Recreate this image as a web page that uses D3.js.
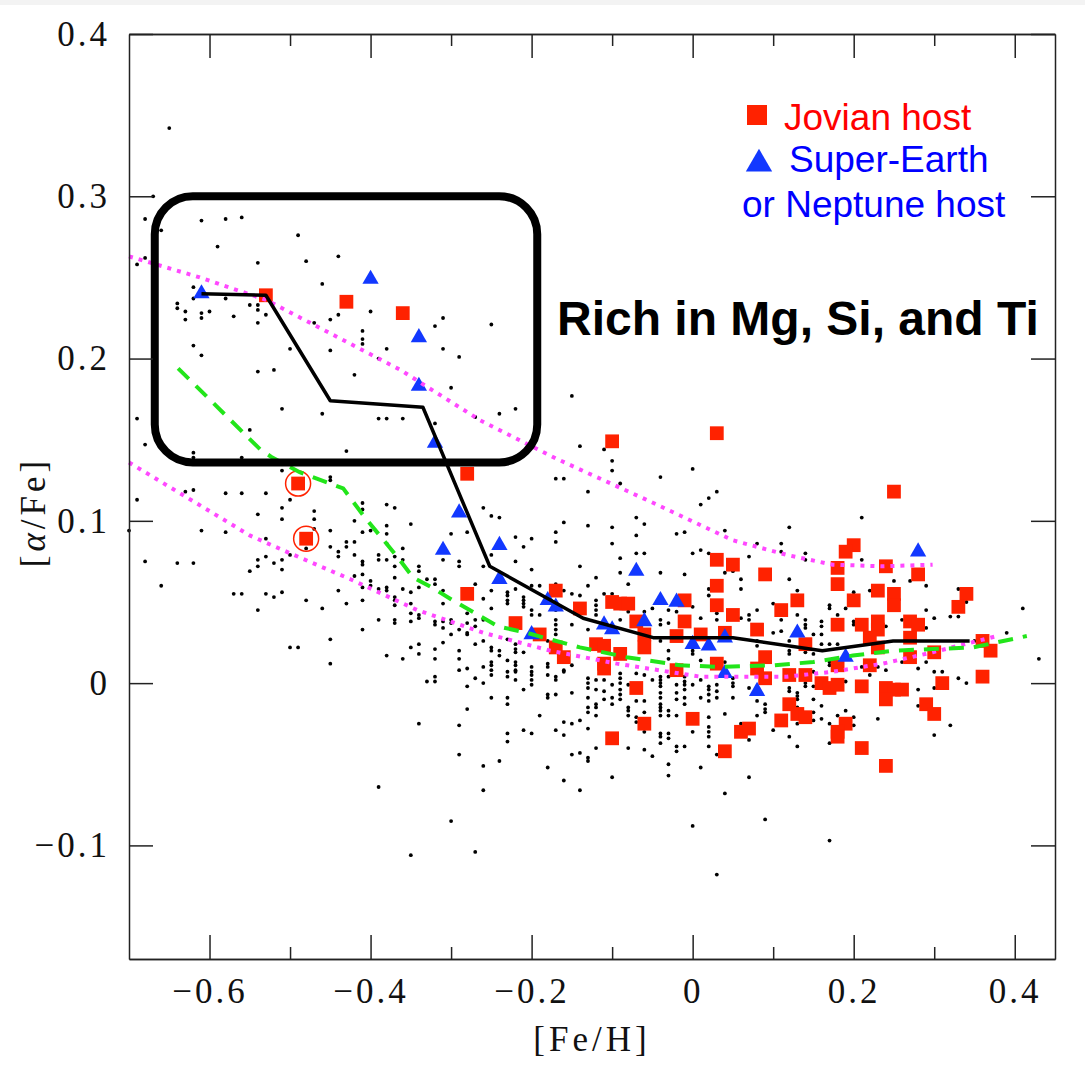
<!DOCTYPE html>
<html><head><meta charset="utf-8">
<script src="https://cdn.jsdelivr.net/npm/d3@7"></script>
<style>
html,body{margin:0;padding:0;background:#fff;}
svg{display:block;}
</style></head>
<body>
<svg id="chart" width="1085" height="1067"></svg>
<script>
// ---------- tick definitions ----------
const xTicksMajor = [-0.6, -0.4, -0.2, 0, 0.2, 0.4];
const xTickLabels = ["\u22120.6", "\u22120.4", "\u22120.2", "0", "0.2", "0.4"];
const xTicksMinor = [-0.5, -0.3, -0.1, 0.1, 0.3];
const yTicks = [-0.1, 0, 0.1, 0.2, 0.3, 0.4];
const yTickLabels = ["\u22120.1", "0", "0.1", "0.2", "0.3", "0.4"];

// ---------- Jovian hosts [Fe/H, alpha/Fe] ----------
const jovianHosts = [
[-0.53,0.239],[-0.43,0.235],[-0.36,0.228],[-0.28,0.129],[-0.28,0.055],[-0.10,0.149],[0.03,0.154],[0.25,0.118],
[0.20,0.085],[0.19,0.081],[0.18,0.071],[0.24,0.072],[0.28,0.067],[0.03,0.076],[0.05,0.073],[0.09,0.067],
[0.18,0.061],[0.03,0.060],[0.23,0.057],[0.25,0.055],[0.34,0.055],[-0.10,0.050],[-0.09,0.049],[-0.08,0.049],
[-0.01,0.051],[0.13,0.051],[0.20,0.051],[0.25,0.048],[0.03,0.048],[0.11,0.045],[0.33,0.047],[0.05,0.042],
[-0.01,0.038],[-0.07,0.038],[0.18,0.036],[0.21,0.036],[0.23,0.038],[0.23,0.033],[0.27,0.038],[0.28,0.036],
[0.08,0.033],[0.01,0.030],[-0.02,0.029],[0.04,0.031],[-0.06,0.030],[-0.06,0.022],[-0.12,0.024],[-0.11,0.023],
[0.22,0.028],[0.27,0.028],[0.36,0.026],[0.37,0.020],[0.23,0.022],[0.30,0.019],[0.14,0.024],[-0.09,0.018],
[0.09,0.016],[0.27,0.016],[0.18,0.011],[0.22,0.011],[0.03,0.012],[-0.02,0.008],[0.08,0.009],[0.09,0.003],
[0.12,0.005],[0.14,0.005],[0.36,0.004],[0.31,0.000],[0.16,0.000],[0.17,-0.003],[0.18,-0.001],[0.21,-0.002],
[0.24,-0.003],[0.25,-0.004],[0.26,-0.004],[0.24,-0.010],[-0.07,-0.003],[0.12,-0.013],[0.29,-0.013],[0.30,-0.019],
[0.13,-0.019],[0.14,-0.021],[0.00,-0.022],[0.11,-0.023],[0.19,-0.025],[-0.06,-0.025],[0.06,-0.030],[0.07,-0.028],
[0.18,-0.030],[0.18,-0.033],[-0.10,-0.034],[0.21,-0.040],[0.04,-0.042],[0.24,-0.051],[-0.14,0.046],[-0.22,0.037],
[-0.19,0.030],[-0.17,0.022],[-0.16,0.016],[-0.11,0.012],[-0.11,0.009],[-0.17,0.057],
[-0.49,0.123],[-0.48,0.089]
];
// Jovian hosts that are circled
const circledHosts = [[-0.49,0.123],[-0.48,0.089]];

// ---------- Super-Earth / Neptune hosts ----------
const neptuneHosts = [
[-0.61,0.240],[-0.40,0.249],[-0.34,0.213],[-0.34,0.183],[-0.32,0.148],[-0.29,0.105],[-0.31,0.082],[-0.24,0.085],
[-0.24,0.064],[-0.20,0.030],[-0.18,0.051],[-0.17,0.047],[-0.11,0.036],[-0.10,0.033],[-0.07,0.069],[-0.04,0.051],
[-0.02,0.050],[-0.06,0.038],[0.00,0.024],[0.02,0.023],[0.04,0.028],[0.13,0.031],[0.04,0.006],[0.08,-0.005],
[0.19,0.016],[0.28,0.081]
];

// ---------- field stars ----------
const fieldStars = [
[-0.65,0.342],[-0.67,0.300],[-0.68,0.286],[-0.66,0.279],[-0.61,0.285],[-0.58,0.286],[-0.56,0.287],[-0.59,0.269],
[-0.49,0.276],[-0.69,0.258],[-0.68,0.262],[-0.54,0.259],[-0.48,0.260],[-0.44,0.263],[-0.46,0.246],[-0.62,0.244],
[-0.62,0.237],[-0.64,0.234],[-0.64,0.231],[-0.63,0.229],[-0.63,0.224],[-0.61,0.228],[-0.61,0.225],[-0.60,0.229],
[-0.58,0.237],[-0.57,0.226],[-0.55,0.233],[-0.54,0.233],[-0.54,0.230],[-0.53,0.227],[-0.54,0.222],[-0.47,0.222],
[-0.45,0.224],[-0.44,0.227],[-0.40,0.229],[-0.41,0.217],[-0.41,0.212],[-0.41,0.209],[-0.38,0.206],[-0.39,0.200],
[-0.45,0.205],[-0.50,0.206],[-0.62,0.208],[-0.61,0.202],[-0.54,0.192],[-0.52,0.193],[-0.42,0.190],
[-0.31,0.225],[-0.32,0.220],[-0.25,0.221],[-0.31,0.206],[-0.29,0.201],[-0.30,0.182],[-0.24,0.166],[-0.22,0.169],
[-0.27,0.164],[-0.36,0.163],[-0.39,0.163],[-0.38,0.163],[-0.46,0.166],[-0.51,0.169],[-0.32,0.160],[-0.43,0.143],
[-0.55,0.156],[-0.69,0.163],[-0.68,0.147],[-0.62,0.142],[-0.62,0.139],[-0.56,0.139],[-0.17,0.126],[-0.16,0.126],
[-0.15,0.177],[-0.14,0.146],[-0.11,0.144],[-0.10,0.137],[-0.10,0.131],[-0.04,0.127],[0.00,0.132],
[-0.09,0.123],[0.03,0.118],[0.02,0.114],[0.01,0.110],[-0.10,0.096],[-0.07,0.102],[-0.06,0.098],[-0.10,0.086],
[-0.02,0.092],[-0.01,0.093],[0.04,0.094],[0.12,0.096],[-0.07,0.091],[-0.07,0.080],[-0.06,0.080],[-0.09,0.077],
[0.00,0.080],[0.01,0.082],[0.02,0.080],[0.08,0.086],[0.11,0.086],[0.11,0.081],[0.14,0.080],[0.14,0.076],
[0.07,0.078],[-0.10,0.055],[-0.08,0.061],[-0.09,0.068],[-0.04,0.068],[-0.01,0.067],[0.04,0.068],[0.05,0.069],
[0.06,0.064],[0.06,0.058],[0.02,0.058],[0.02,0.054],[0.12,0.064],[0.21,0.102],[0.21,0.076],[0.25,0.063],
[0.27,0.063],[0.29,0.060],[0.20,0.056],[0.22,0.057],[0.33,0.058],[0.13,0.057],[-0.11,0.055],
[-0.09,0.046],[-0.08,0.044],[-0.06,0.044],[-0.06,0.039],[-0.05,0.046],[-0.03,0.037],[-0.02,0.050],[-0.02,0.044],
[0.00,0.047],[0.03,0.043],[0.06,0.040],[0.08,0.045],[0.11,0.043],[0.11,0.039],[0.16,0.035],[0.19,0.046],
[0.29,0.045],[0.34,0.050],[0.35,0.026],
[-0.13,0.118],[-0.16,0.099],[-0.13,0.097],[-0.17,0.093],[-0.17,0.087],[-0.22,0.090],[-0.20,0.089],[-0.21,0.084],
[-0.14,0.072],[-0.25,0.079],[-0.22,0.075],[-0.20,0.070],[-0.12,0.065],[-0.13,0.060],[-0.19,0.060],[-0.17,0.061],
[-0.16,0.057],[-0.14,0.054],[-0.23,0.056],[-0.23,0.054],[-0.22,0.058],[-0.21,0.053],[-0.20,0.060],[-0.18,0.054],
[-0.15,0.055],[-0.26,0.052],
[-0.51,0.131],[-0.45,0.127],[-0.45,0.125],[-0.63,0.118],[-0.62,0.119],[-0.58,0.117],[-0.56,0.117],[-0.53,0.117],
[-0.50,0.113],[-0.69,0.113],[-0.51,0.108],[-0.51,0.101],[-0.47,0.106],[-0.47,0.101],[-0.54,0.104],[-0.41,0.111],
[-0.41,0.107],[-0.38,0.110],[-0.37,0.108],[-0.42,0.100],[-0.35,0.098],[-0.70,0.094],[-0.61,0.094],[-0.58,0.093],
[-0.45,0.094],[-0.41,0.093],[-0.40,0.094],[-0.38,0.097],[-0.38,0.092],[-0.53,0.089],[-0.47,0.095],[-0.43,0.087],
[-0.43,0.084],[-0.42,0.087],[-0.44,0.081],[-0.44,0.078],[-0.45,0.084],[-0.48,0.083],[-0.42,0.079],[-0.38,0.086],
[-0.36,0.083],[-0.30,0.092],[-0.28,0.093],[-0.26,0.108],[-0.25,0.103],[-0.24,0.102],[-0.68,0.075],[-0.64,0.074],
[-0.62,0.074],[-0.55,0.069],[-0.54,0.076],[-0.54,0.072],[-0.53,0.078],[-0.52,0.074],[-0.51,0.076],[-0.51,0.070],
[-0.50,0.079],[-0.41,0.075],[-0.41,0.073],[-0.39,0.079],[-0.39,0.076],[-0.38,0.076],[-0.37,0.078],[-0.37,0.072],
[-0.36,0.076],[-0.34,0.072],[-0.34,0.069],[-0.31,0.076],[-0.29,0.075],[-0.29,0.072],[-0.26,0.072],[-0.66,0.060],
[-0.57,0.055],[-0.56,0.055],[-0.53,0.055],[-0.52,0.053],[-0.51,0.056],[-0.48,0.051],[-0.46,0.046],[-0.54,0.045],
[-0.44,0.057],[-0.43,0.049],[-0.42,0.066],[-0.41,0.067],[-0.41,0.059],[-0.40,0.063],[-0.40,0.060],[-0.39,0.058],
[-0.38,0.059],[-0.38,0.057],[-0.37,0.065],[-0.37,0.053],[-0.37,0.051],[-0.37,0.048],[-0.36,0.058],[-0.35,0.056],
[-0.35,0.049],[-0.35,0.043],[-0.34,0.059],[-0.34,0.042],[-0.34,0.040],[-0.33,0.064],[-0.32,0.064],[-0.32,0.061],
[-0.31,0.057],[-0.31,0.049],[-0.30,0.039],[-0.30,0.037],[-0.27,0.061],[-0.25,0.057],[-0.41,0.051],[-0.39,0.039],
[-0.37,0.039],[-0.37,0.037],[-0.35,0.038],[-0.32,0.038],[-0.32,0.036],[-0.31,0.038],[-0.31,0.034],[-0.30,0.030],
[-0.28,0.043],[-0.28,0.037],[-0.28,0.031],[-0.28,0.030],[-0.27,0.039],[-0.27,0.035],[-0.29,0.033],[-0.41,0.033],
[-0.45,0.027],[-0.50,0.022],[-0.49,0.022],[-0.38,0.017],[-0.36,0.015],[-0.35,0.022],[-0.34,0.024],[-0.34,0.018],
[-0.32,0.021],[-0.32,0.015],[-0.31,0.025],[-0.29,0.020],[-0.29,0.015],[-0.29,0.008],[-0.28,0.009],[-0.28,-0.002],
[-0.27,0.024],[-0.27,0.003],[-0.45,0.012],[-0.33,0.001],[-0.32,0.004],[-0.32,0.001],[-0.28,-0.016],[-0.34,-0.025],
[-0.29,-0.026],[-0.29,-0.044],[-0.39,-0.064],[-0.30,-0.085],[-0.35,-0.106],[-0.27,-0.104],
[-0.26,0.039],[-0.26,0.026],[-0.26,0.010],[-0.26,0.000],[-0.26,-0.051],[-0.26,-0.066],
[-0.25,0.046],[-0.25,0.022],[-0.25,0.020],[-0.25,0.013],[-0.25,0.011],[-0.25,0.008],[-0.25,0.005],[-0.25,-0.009],
[-0.24,0.020],[-0.24,0.017],[-0.24,-0.048],
[-0.23,0.051],[-0.23,0.049],[-0.23,0.027],[-0.23,0.014],[-0.23,0.007],[-0.23,0.004],[-0.23,-0.009],[-0.23,-0.013],[-0.23,-0.031],[-0.23,-0.036],
[-0.22,0.024],[-0.22,0.021],[-0.22,0.019],[-0.22,0.013],[-0.22,0.011],[-0.22,0.008],[-0.22,0.007],[-0.22,0.002],
[-0.21,0.051],[-0.21,0.049],[-0.21,0.047],[-0.21,0.019],[-0.21,-0.004],[-0.21,-0.029],
[-0.20,0.045],[-0.20,0.042],[-0.20,0.010],[-0.20,0.007],[-0.20,0.005],[-0.20,0.002],[-0.20,-0.001],[-0.20,-0.031],
[-0.19,0.042],[-0.19,-0.020],
[-0.18,0.026],[-0.18,0.012],[-0.18,0.010],[-0.18,0.005],[-0.18,-0.007],[-0.18,-0.009],[-0.18,-0.052],
[-0.17,0.045],[-0.17,0.039],[-0.17,0.036],[-0.17,0.033],[-0.17,0.030],[-0.17,0.004],[-0.17,0.002],[-0.17,-0.007],[-0.17,-0.029],
[-0.16,0.008],[-0.16,0.007],[-0.16,-0.024],[-0.16,-0.032],[-0.16,-0.060],
[-0.15,0.036],[-0.15,0.011],[-0.15,-0.006],[-0.15,-0.025],[-0.15,-0.044],
[-0.14,-0.023],[-0.14,-0.043],[-0.14,-0.066],
[-0.13,0.033],[-0.13,0.003],[-0.13,0.000],[-0.13,-0.003],[-0.13,-0.009],[-0.13,-0.015],[-0.13,-0.018],[-0.13,-0.028],[-0.13,-0.046],[-0.13,-0.048],
[-0.12,0.051],[-0.12,0.048],[-0.12,0.045],[-0.12,0.042],[-0.12,0.002],[-0.12,-0.004],[-0.12,-0.013],[-0.12,-0.015],[-0.12,-0.020],[-0.12,-0.040],
[-0.11,0.002],[-0.11,-0.005],[-0.11,-0.010],
[-0.10,-0.001],[-0.10,-0.009],[-0.10,-0.013],[-0.10,-0.058],
[-0.09,0.039],[-0.09,0.006],[-0.09,0.003],[-0.09,0.000],[-0.09,-0.004],[-0.09,-0.007],[-0.09,-0.010],
[-0.08,-0.001],[-0.08,-0.015],[-0.08,-0.017],[-0.08,-0.020],[-0.08,-0.040],
[-0.07,0.006],[-0.07,-0.002],[-0.07,-0.011],[-0.07,-0.021],[-0.07,-0.024],
[-0.06,0.005],[-0.06,-0.011],[-0.06,-0.018],[-0.06,-0.030],[-0.06,-0.041],
[-0.05,0.002],[-0.05,-0.045],
[-0.04,0.039],[-0.04,0.036],[-0.04,0.026],[-0.04,0.004],[-0.04,0.002],[-0.04,0.000],[-0.04,-0.002],[-0.04,-0.006],
[-0.04,-0.009],[-0.04,-0.013],[-0.04,-0.015],[-0.04,-0.017],[-0.04,-0.020],[-0.04,-0.031],[-0.04,-0.033],[-0.04,-0.037],
[-0.03,0.045],[-0.03,0.020],[-0.03,0.015],[-0.03,0.004],[-0.03,-0.017],[-0.03,-0.020],[-0.03,-0.031],[-0.03,-0.034],[-0.03,-0.050],[-0.03,-0.057],
[-0.02,-0.001],[-0.02,-0.006],[-0.02,-0.010],[-0.02,-0.020],[-0.02,-0.039],[-0.02,-0.042],
[-0.01,0.004],[-0.01,0.001],[-0.01,-0.001],[-0.01,-0.004],[-0.01,-0.009],[-0.01,-0.013],[-0.01,-0.039],
[0.00,0.020],[0.00,0.018],[0.00,-0.001],[0.00,-0.030],[0.00,-0.088],
[0.01,0.040],[0.01,0.014],[0.01,0.002],[0.01,-0.009],[0.01,-0.052],
[0.02,-0.002],[0.02,-0.004],[0.02,-0.007],[0.02,-0.011],[0.02,-0.021],[0.02,-0.027],[0.02,-0.030],[0.02,-0.033],[0.02,-0.039],
[0.03,0.039],[0.03,0.010],[0.03,-0.001],[0.03,-0.005],[0.03,-0.009],[0.03,-0.044],[0.03,-0.118],
[0.04,0.013],[0.04,-0.019],[0.04,-0.068],
[0.05,0.003],[0.05,0.000],[0.05,-0.002],[0.05,-0.009],
[0.06,-0.025],
[0.07,0.042],[0.07,0.039],[0.07,-0.003],[0.07,-0.035],[0.07,-0.058],
[0.08,0.026],[0.08,0.023],[0.08,-0.011],[0.08,-0.020],
[0.09,-0.013],[0.09,-0.016],[0.09,-0.018],[0.09,-0.084],
[0.10,0.049],[0.10,0.031],[0.10,-0.029],
[0.11,0.032],
[0.12,0.026],[0.12,0.020],[0.12,0.018],[0.12,-0.003],[0.12,-0.005],[0.12,-0.033],
[0.13,0.042],[0.13,-0.006],[0.13,-0.008],[0.13,-0.010],[0.13,-0.015],[0.13,-0.025],[0.13,-0.039],
[0.14,0.039],[0.14,0.036],[0.14,0.034],[0.14,0.021],[0.14,0.019],[0.14,0.000],[0.14,-0.002],
[0.15,0.030],[0.15,0.018],[0.15,0.007],[0.15,-0.002],[0.15,-0.010],[0.15,-0.018],[0.15,-0.023],
[0.16,0.038],[0.16,0.030],[0.16,0.024],[0.16,-0.014],[0.16,-0.022],
[0.17,0.048],[0.17,0.046],[0.17,0.024],[0.17,0.013],[0.17,0.011],[0.17,-0.025],[0.17,-0.037],[0.17,-0.097],
[0.18,0.042],[0.18,0.024],[0.18,-0.020],
[0.19,0.001],[0.19,-0.017],
[0.20,0.038],[0.20,0.036],[0.20,-0.021],[0.20,-0.026],
[0.21,0.010],[0.22,0.008],[0.22,0.005],[0.23,0.010],[0.23,-0.022],[0.24,0.035],[0.24,0.008],
[0.26,0.039],[0.26,0.013],[0.28,0.009],[0.28,-0.004],[0.28,-0.014],[0.29,0.034],[0.29,0.013],
[0.30,0.040],[0.30,0.007],[0.30,-0.003],[0.30,-0.032],[0.31,0.007],[0.32,0.041],[0.32,-0.026],
[0.33,0.041],[0.33,0.003],[0.34,0.000],[0.39,0.031],[0.41,0.046],[0.43,0.015]
];

// ---------- trend lines ----------
const meanTrend = [[-0.61,0.240],[-0.53,0.239],[-0.45,0.174],[-0.335,0.170],[-0.252,0.072],[-0.136,0.040],
  [-0.049,0.028],[0.05,0.028],[0.161,0.020],[0.249,0.026],[0.344,0.026]];
const modelTrend = [[-0.639,0.194],[-0.537,0.144],[-0.522,0.139],[-0.488,0.130],[-0.434,0.120],[-0.407,0.102],
  [-0.367,0.078],[-0.347,0.065],[-0.324,0.059],[-0.298,0.051],[-0.242,0.035],[-0.206,0.031],[-0.177,0.027],
  [-0.140,0.022],[-0.082,0.016],[-0.016,0.011],[0.034,0.010],[0.100,0.011],[0.150,0.013],[0.199,0.017],
  [0.249,0.020],[0.298,0.021],[0.348,0.022],[0.415,0.029]];
const upperEnvelope = [[-0.700,0.263],[-0.612,0.250],[-0.529,0.236],[-0.363,0.193],[-0.264,0.162],[-0.168,0.138],
  [-0.053,0.112],[0.050,0.088],[0.117,0.079],[0.174,0.073],[0.236,0.072],[0.298,0.073]];
const lowerEnvelope = [[-0.700,0.136],[-0.670,0.127],[-0.550,0.091],[-0.500,0.080],[-0.425,0.064],[-0.342,0.045],
  [-0.260,0.031],[-0.177,0.020],[-0.094,0.012],[0.009,0.004],[0.050,0.004],[0.117,0.004],[0.174,0.007],
  [0.236,0.012],[0.298,0.019],[0.378,0.029]];

// annotation box extent in data units
const boxFeH = [-0.668, -0.193];
const boxAlpha = [0.136, 0.300];

// ---------- drawing ----------
const svg = d3.select("#chart");
const L = 129, R = 1055, T = 34, B = 959;
const x = d3.scaleLinear().domain([-0.7, 0.45]).range([L, R]);
const y = d3.scaleLinear().domain([-0.17, 0.4]).range([B, T]);

svg.append("rect").attr("x",0).attr("y",0).attr("width",1085).attr("height",5).attr("fill","#f3f3f3");

const serif = "'Liberation Serif','Times New Roman',serif";
const sans = "'Liberation Sans',Arial,Helvetica,sans-serif";

// field stars
svg.append("g").selectAll("circle").data(fieldStars).join("circle")
  .attr("cx", d => x(d[0])).attr("cy", d => y(d[1])).attr("r", 1.9).attr("fill", "#000");

const RED = "#ff2200", BLUE = "#1238ff";
const sq = d3.symbol().type(d3.symbolSquare).size(190);
const tri = d3.symbol().type(d3.symbolTriangle).size(115);

svg.append("g").selectAll("path").data(jovianHosts).join("path")
  .attr("d", sq).attr("transform", d => `translate(${x(d[0])},${y(d[1])})`).attr("fill", RED);
svg.append("g").selectAll("circle").data(circledHosts).join("circle")
  .attr("cx", d => x(d[0])).attr("cy", d => y(d[1])).attr("r", 12.5)
  .attr("fill", "none").attr("stroke", RED).attr("stroke-width", 1.5);
svg.append("g").selectAll("path").data(neptuneHosts).join("path")
  .attr("d", tri).attr("transform", d => `translate(${x(d[0])},${y(d[1])})`).attr("fill", BLUE);

const line = d3.line().x(d => x(d[0])).y(d => y(d[1]));
[upperEnvelope, lowerEnvelope].forEach(env => {
  svg.append("path").attr("d", line(env)).attr("fill","none").attr("stroke","#ff48ff")
    .attr("stroke-width", 4).attr("stroke-dasharray","4,6");
});
svg.append("path").attr("d", line(modelTrend)).attr("fill","none").attr("stroke","#22e51a")
  .attr("stroke-width", 4).attr("stroke-dasharray","15,10");
svg.append("path").attr("d", line(meanTrend)).attr("fill","none").attr("stroke","#000")
  .attr("stroke-width", 3.5).attr("stroke-linejoin","round");

// annotation box
svg.append("rect")
  .attr("x", x(boxFeH[0])).attr("y", y(boxAlpha[1]))
  .attr("width", x(boxFeH[1]) - x(boxFeH[0])).attr("height", y(boxAlpha[0]) - y(boxAlpha[1]))
  .attr("rx", 38).attr("ry", 38).attr("fill","none").attr("stroke","#000").attr("stroke-width", 8);

// axes
function styleAxis(g){
  g.selectAll(".domain").attr("stroke","#222").attr("stroke-width",1.5);
  g.selectAll(".tick line").attr("stroke","#222").attr("stroke-width",1.5);
  g.selectAll("text").attr("font-family", serif).attr("font-size", 35).attr("fill","#111")
    .attr("letter-spacing", "3px");
}
svg.append("g").attr("transform",`translate(0,${B})`)
  .call(d3.axisBottom(x).tickValues(xTicksMajor).tickSize(-24).tickSizeOuter(0).tickPadding(19)
    .tickFormat((d,i) => xTickLabels[i])).call(styleAxis);
svg.append("g").attr("transform",`translate(0,${B})`)
  .call(d3.axisBottom(x).tickValues(xTicksMinor).tickSize(-12).tickSizeOuter(0).tickFormat(""))
  .call(styleAxis);
svg.append("g").attr("transform",`translate(0,${T})`)
  .call(d3.axisTop(x).tickValues(xTicksMajor).tickSize(-24).tickSizeOuter(0).tickFormat(""))
  .call(styleAxis);
svg.append("g").attr("transform",`translate(0,${T})`)
  .call(d3.axisTop(x).tickValues(xTicksMinor).tickSize(-12).tickSizeOuter(0).tickFormat(""))
  .call(styleAxis);
svg.append("g").attr("transform",`translate(${L},0)`)
  .call(d3.axisLeft(y).tickValues(yTicks).tickSize(-24).tickSizeOuter(0).tickPadding(19)
    .tickFormat((d,i) => yTickLabels[i])).call(styleAxis);
svg.append("g").attr("transform",`translate(${R},0)`)
  .call(d3.axisRight(y).tickValues(yTicks).tickSize(-24).tickSizeOuter(0).tickFormat(""))
  .call(styleAxis);

// axis titles
svg.append("text").attr("x", (L+R)/2).attr("y", 1051).attr("text-anchor","middle")
  .attr("font-family", serif).attr("font-size", 35).attr("letter-spacing","4px").attr("fill","#111")
  .text("[Fe/H]");
const yt = svg.append("text").attr("transform","translate(45,512) rotate(-90)").attr("text-anchor","middle")
  .attr("font-family", serif).attr("font-size", 35).attr("letter-spacing","4px").attr("fill","#111");
yt.append("tspan").text("[");
yt.append("tspan").attr("font-style","italic").text("\u03B1");
yt.append("tspan").text("/Fe]");

// legend
svg.append("path").attr("d", d3.symbol().type(d3.symbolSquare).size(400)).attr("transform","translate(757,115)").attr("fill", RED);
svg.append("text").attr("x",784).attr("y",130).attr("font-family",sans).attr("font-size",37).attr("fill","#ff0000").text("Jovian host");
svg.append("path").attr("d", d3.symbol().type(d3.symbolTriangle).size(300)).attr("transform","translate(759,164)").attr("fill", BLUE);
svg.append("text").attr("x",789).attr("y",172).attr("font-family",sans).attr("font-size",37).attr("fill","#0000ff").text("Super-Earth");
svg.append("text").attr("x",742).attr("y",217).attr("font-family",sans).attr("font-size",37).attr("fill","#0000ff").text("or Neptune host");

svg.append("text").attr("x",557).attr("y",335).attr("font-family",sans).attr("font-weight","bold")
  .attr("font-size",48).attr("fill","#000").text("Rich in Mg, Si, and Ti");
</script>
</body></html>
